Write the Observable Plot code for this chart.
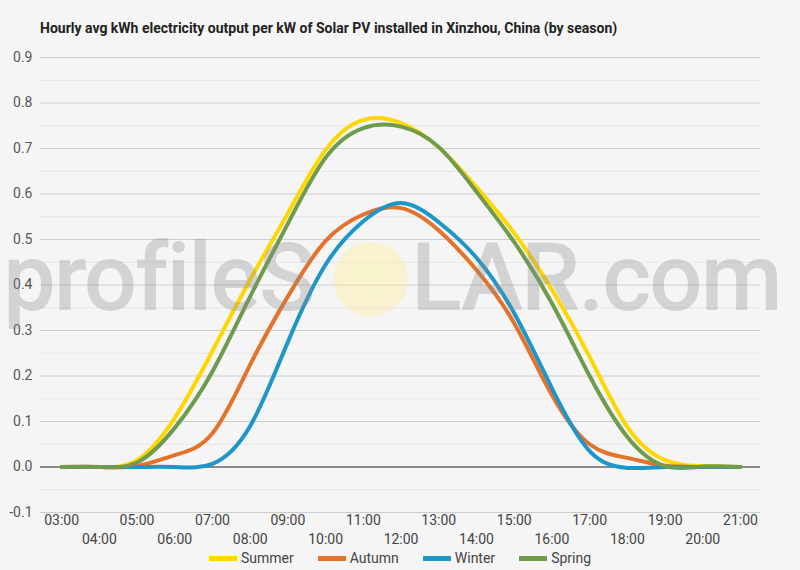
<!DOCTYPE html>
<html><head><meta charset="utf-8">
<script src="https://cdn.jsdelivr.net/npm/d3@7"></script>
<script src="https://cdn.jsdelivr.net/npm/@observablehq/plot@0.6"></script>
<style>
body{margin:0;background:#f5f5f5;font-family:Roboto,sans-serif;}
#wrap{position:relative;width:800px;height:570px;overflow:hidden;background:#f5f5f5;}
#title{position:absolute;left:40px;top:19px;font-size:14px;line-height:18px;font-weight:bold;color:#222;white-space:nowrap;}
#chart{position:absolute;left:0;top:40px;}
#legend{position:absolute;top:549px;left:0;width:800px;display:flex;justify-content:center;gap:24px;font-size:14px;line-height:18px;color:#444;}
#legend .item{display:flex;align-items:center;gap:4px;}
#legend .sw{width:28px;height:5px;display:inline-block;}
.wm{position:absolute;font-size:94px;line-height:94px;font-weight:500;letter-spacing:-2px;color:rgba(140,140,140,0.32);white-space:nowrap;pointer-events:none;}
#sun{position:absolute;left:333px;top:242px;width:75px;height:75px;border-radius:50%;background:radial-gradient(circle at 50% 40%, rgba(255,245,150,0.45), rgba(250,230,170,0.4));pointer-events:none;}
</style></head>
<body>
<div id="wrap">
<div id="title">Hourly avg kWh electricity output per kW of Solar PV installed in Xinzhou, China (by season)</div>
<div id="chart"></div>
<div id="sun"></div>
<div class="wm" style="left:3px;top:231px;">profileS</div>
<div class="wm" style="left:411px;top:231px;">LAR.com</div>
<div id="legend"></div>
</div>
<script>
const hours = ["03:00","04:00","05:00","06:00","07:00","08:00","09:00","10:00","11:00","12:00","13:00","14:00","15:00","16:00","17:00","18:00","19:00","20:00","21:00"];
const summer = [0,0,0.015,0.108,0.255,0.412,0.558,0.697,0.763,0.756,0.703,0.615,0.514,0.39,0.242,0.088,0.015,0.002,0];
const autumn = [0,0,0.002,0.026,0.074,0.225,0.375,0.497,0.555,0.569,0.52,0.433,0.316,0.158,0.05,0.02,0.003,0,0];
const winter = [0,0,0,0,0.007,0.09,0.275,0.445,0.54,0.58,0.538,0.46,0.338,0.173,0.035,-0.002,0,0,0];
const spring = [0,0,0.01,0.086,0.21,0.375,0.535,0.68,0.745,0.748,0.703,0.605,0.494,0.36,0.2,0.066,0.002,0.001,0];
const seasons = ["Summer","Autumn","Winter","Spring"];
const colors = ["#FFD600","#E5722A","#1E96C8","#6E9B4E"];
const yTicks = [-0.1,0,0.1,0.2,0.3,0.4,0.5,0.6,0.7,0.8,0.9];
const yMinor = [-0.05,0.05,0.15,0.25,0.35,0.45,0.55,0.65,0.75,0.85];

const series = [summer, autumn, winter, spring];
const rows = [];
series.forEach((vals, si) => vals.forEach((v, i) => rows.push({season: seasons[si], hour: 3 + i, value: v})));
const hourNum = hours.map((h, i) => 3 + i);
const fmtHour = d => hours[d - 3];

const lineMarks = seasons.map((s, si) => Plot.line(rows.filter(r => r.season === s), {
  x: "hour", y: "value", stroke: colors[si], strokeWidth: 4, curve: "natural", strokeLinejoin: "round", strokeLinecap: "round"
}));

const chart = Plot.plot({
  width: 800, height: 510,
  marginLeft: 40, marginRight: 40, marginTop: 17, marginBottom: 38,
  x: {domain: [2.44, 21.53], axis: null},
  y: {domain: [-0.1, 0.9], axis: null},
  style: {background: "transparent", fontFamily: "Roboto, sans-serif", fontSize: "14px"},
  marks: [
    Plot.ruleY(yMinor, {stroke: "#e6e6e6"}),
    Plot.ruleY(yTicks, {stroke: "#cccccc"}),
    Plot.ruleY([0], {stroke: "#333333"}),
    ...lineMarks,
    Plot.axisY({ticks: yTicks, tickSize: 0, tickPadding: 8, tickFormat: d => d.toFixed(1), fill: "#555", fontSize: 14, label: null}),
    Plot.axisX({ticks: hourNum.filter((h, i) => i % 2 === 0), tickSize: 0, tickPadding: 3, tickFormat: fmtHour, fill: "#444", fontSize: 14, label: null}),
    Plot.axisX({ticks: hourNum.filter((h, i) => i % 2 === 1), tickSize: 0, tickPadding: 22, tickFormat: fmtHour, fill: "#444", fontSize: 14, label: null})
  ]
});
document.getElementById("chart").appendChild(chart);

const legend = document.getElementById("legend");
seasons.forEach((s, i) => {
  const it = document.createElement("div");
  it.className = "item";
  it.innerHTML = `<span class="sw" style="background:${colors[i]}"></span><span>${s}</span>`;
  legend.appendChild(it);
});
</script>
</body></html>
